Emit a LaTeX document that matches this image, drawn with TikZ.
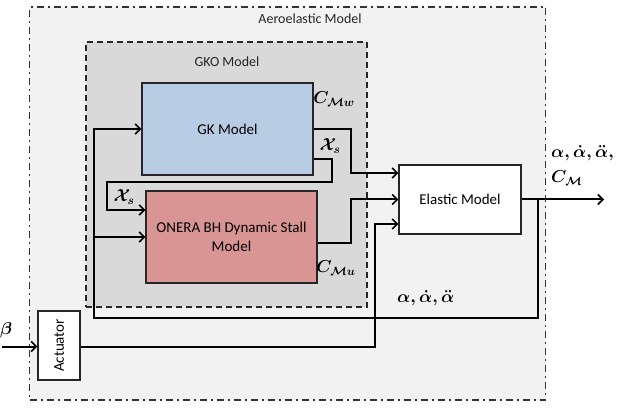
\documentclass[tikz,border=0pt]{standalone}
\usepackage{fontspec}
\setmainfont{Carlito}
\usetikzlibrary{arrows.meta}
\definecolor{outerfill}{HTML}{F2F2F2}
\definecolor{gkofill}{HTML}{D9D9D9}
\definecolor{gkfill}{HTML}{B8CCE4}
\definecolor{onerafill}{HTML}{D99594}
\begin{document}
\begin{tikzpicture}[x=1pt,y=-1pt,
  blk/.style={draw=black!85, line width=1.4pt, inner sep=0pt, align=center, font=\fontsize{15}{19}\selectfont},
  conn/.style={line width=2pt, -{Straight Barb[length=5pt,width=10pt,line width=1.6pt]}},
  lab/.style={font=\fontsize{18}{20}\selectfont\boldmath, inner sep=0pt}
]
\useasboundingbox (0,0) rectangle (618,411);
\node[draw=black!80, line width=1.4pt, dash pattern=on 7pt off 4pt on 2pt off 4pt, fill=outerfill, minimum width=516pt, minimum height=393pt, inner sep=0pt] (outer) at (287.5,203.5) {};
\node[font=\fontsize{14}{16}\selectfont, text=black!85] (aerolab) at (310,19) {Aeroelastic Model};
\node[draw=black!85, line width=1.4pt, dash pattern=on 6pt off 4pt, fill=gkofill, minimum width=281pt, minimum height=265pt, inner sep=0pt] (gko) at (226.5,174.5) {};
\node[font=\fontsize{14}{16}\selectfont, text=black!85] (gkolab) at (227,62) {GKO Model};
\node[blk, fill=gkfill, minimum width=171pt, minimum height=92pt] (gk) at (227.5,129) {GK Model};
\node[blk, fill=onerafill, minimum width=171pt, minimum height=92pt] (onera) at (231.5,237) {ONERA BH Dynamic Stall\\Model};
\node[blk, fill=white, minimum width=122pt, minimum height=69pt] (elastic) at (460,199.5) {Elastic Model};
\node[blk, fill=white, minimum width=42pt, minimum height=69pt] (act) at (59,345.5) {\rotatebox{90}{Actuator}};
% connectors
\coordinate (tap) at (537.7,199.5);
\coordinate (fbl) at (94,237);
\coordinate (betain) at (2,346.5);
\coordinate (outend) at (604,199.5);
\draw[conn] (gk.east) -- (351,129) -- (351,173) -- (elastic.west |- 0,173);
\draw[conn] (gk.east |- 0,159) -- (332,159) -- (332,182) -- (107,182) -- (107,210) -- (onera.west |- 0,210);
\draw[conn] (onera.east |- 0,243) -- (351,243) -- (351,199.5) -- (elastic.west);
\draw[conn] (act.east |- 0,346.5) -- (375,346.5) -- (375,224) -- (elastic.west |- 0,224);
\draw[conn] (elastic.east) -- (outend);
\draw[conn] (tap) -- (537.7,318) -- (94,318) -- (94,129) -- (gk.west);
\draw[conn] (fbl) -- (onera.west);
\draw[conn] (betain) -- (act.west |- betain);
% labels
\node[lab] (cmw) at (334,99) {$C_{\mathcal{M}w}$};
\node[lab] (xs1) at (330,146) {$\mathcal{X}_s$};
\node[lab] (xs2) at (124,197) {$\mathcal{X}_s$};
\node[lab] (cmu) at (336,268) {$C_{\mathcal{M}u}$};
\node[lab, anchor=west] (alb) at (397,298) {$\alpha,\dot\alpha,\ddot\alpha$};
\node[lab, anchor=west] (alt) at (551,153) {$\alpha,\dot\alpha,\ddot\alpha,$};
\node[lab, anchor=west] (cm) at (551,178) {$C_{\mathcal{M}}$};
\node[lab, anchor=west] (beta) at (0,330) {$\beta$};
\end{tikzpicture}
\end{document}
